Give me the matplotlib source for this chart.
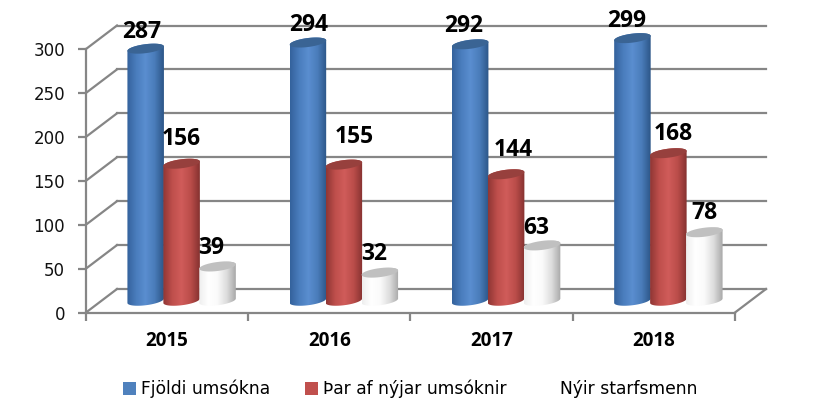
import matplotlib
matplotlib.use("Agg")
import matplotlib.pyplot as plt
import numpy as np
from matplotlib.colors import LinearSegmentedColormap
from matplotlib.patches import Patch, Polygon

years = ["2015", "2016", "2017", "2018"]
series_names = ["Fjöldi umsókna", "Þar af nýjar umsóknir", "Nýir starfsmenn"]
applications = [287, 294, 292, 299]
new_applications = [156, 155, 144, 168]
new_staff = [39, 32, 63, 78]
y_ticks = [0, 50, 100, 150, 200, 250, 300]

GRID = "#868686"
W, H = 815, 417
LEFT, RIGHT, TOP, BOTTOM = 86, 735, 49, 312.5

# colours: side gradient stops and top of the cylinder
side_colors = [
    ["#34629c", "#4a7dbd", "#5a8ed0", "#4a7cba", "#2c5687"],
    ["#8f3634", "#bf4f4c", "#d05c5a", "#bb4d4a", "#853230"],
    ["#eeeeee", "#ffffff", "#fafafa", "#dddddd", "#a8a8a8"],
]
top_colors = ["#3a6494", "#97403d", "#c0c0c0"]
legend_colors = ["#4f81bd", "#c0504d", "#ffffff"]

# label nudges from the top of each bar, in pixels (per series, per year)
label_dx = [[-4, 1, -7, -6], [0, 10, 7, 5], [-6, -6, -6, 0]]
label_dy = [[17, 18, 18, 17], [25, 28, 24, 19], [18, 19, 17, 19]]

fig = plt.figure(figsize=(W / 100, H / 100), dpi=100, facecolor="white")
ax = fig.add_axes([LEFT / W, 1 - BOTTOM / H, (RIGHT - LEFT) / W, (BOTTOM - TOP) / H])

px_x = 4 / (RIGHT - LEFT)
px_y = 300 / (BOTTOM - TOP)
depth_x = 31 * px_x
depth_y = 23.5 * px_y
mid_x = 14.5 * px_x
mid_y = depth_y / 2
bar_w = 36.5 * px_x
ell_h = 4.5 * px_y
tilt = 2.2 * px_y


def ellipse(xc, yc, a0, a1):
    a = np.linspace(a0, a1, 60)
    c = np.cos(a)
    return np.column_stack([xc + c * bar_w / 2, yc + np.sin(a) * ell_h + c * tilt])


def cylinder(xc, value, idx):
    base = mid_y
    top = value + mid_y
    body = np.vstack([ellipse(xc, top, 0, np.pi), ellipse(xc, base, np.pi, 2 * np.pi)])
    cmap = LinearSegmentedColormap.from_list("side", side_colors[idx])
    im = ax.imshow(
        np.linspace(0, 1, 128).reshape(1, -1),
        cmap=cmap,
        aspect="auto",
        interpolation="bilinear",
        extent=[xc - bar_w / 2, xc + bar_w / 2, base - 2 * ell_h, top + 2 * ell_h],
        zorder=3 + idx,
    )
    # the cylinders stand in the middle of the floor, so they can rise above the axes box
    im.set_clip_box(fig.bbox)
    clip = Polygon(body, closed=True, transform=ax.transData)
    im.set_clip_path(clip)
    ax.add_patch(Polygon(ellipse(xc, top, 0, 2 * np.pi), closed=True, fc=top_colors[idx],
                         ec="none", zorder=3 + idx, clip_on=False))


# walls and floor
for t in y_ticks:
    ax.plot([0, depth_x], [t, t + depth_y], color=GRID, lw=1.6, clip_on=False, zorder=1)
    ax.plot([depth_x, 4 + depth_x], [t + depth_y, t + depth_y], color=GRID, lw=1.6,
            clip_on=False, zorder=1)
ax.plot([4, 4 + depth_x], [0, depth_y], color=GRID, lw=1.6, clip_on=False, zorder=1)

all_values = [applications, new_applications, new_staff]
for s, values in enumerate(all_values):
    for i, v in enumerate(values):
        xc = i + 0.5 + mid_x + (s - 1) * bar_w * 0.985
        cylinder(xc, v, s)
        ax.text(xc + label_dx[s][i] * px_x, v + mid_y + label_dy[s][i] * px_y, str(v),
                ha="center", va="center", fontsize=16.5, fontweight="bold",
                family="Open Sans", color="black", zorder=10, clip_on=False)

ax.set_xlim(0, 4)
ax.set_ylim(0, 300)
ax.set_facecolor("none")
for side in ["top", "right"]:
    ax.spines[side].set_visible(False)
for side in ["left", "bottom"]:
    ax.spines[side].set_color(GRID)
    ax.spines[side].set_linewidth(1.6)
    ax.spines[side].set_zorder(2)

ax.set_yticks(y_ticks)
ax.set_yticklabels([str(t) for t in y_ticks], fontsize=12, family="DejaVu Sans", color="#111111")
ax.set_xticks(range(5))
ax.set_xticklabels([])
ax.set_xticks(np.arange(4) + 0.5, labels=years, minor=True, fontsize=13.5, fontweight="bold",
              family="Open Sans")
ax.tick_params(axis="y", length=6, width=1.6, color=GRID, pad=9)
ax.tick_params(axis="x", which="major", length=6, width=1.6, color=GRID)
ax.tick_params(axis="x", which="minor", length=0, pad=13)

handles = [Patch(fc=c, ec="none", label=n) for c, n in zip(legend_colors, series_names)]
fig.legend(handles=handles, loc="center", bbox_to_anchor=(410 / W, 1 - 389 / H), ncol=3,
           frameon=False, prop={"family": "DejaVu Sans", "size": 12.3},
           handlelength=0.75, handleheight=0.75, handletextpad=0.3, columnspacing=2.05)

fig.savefig("out.png", dpi=100)
